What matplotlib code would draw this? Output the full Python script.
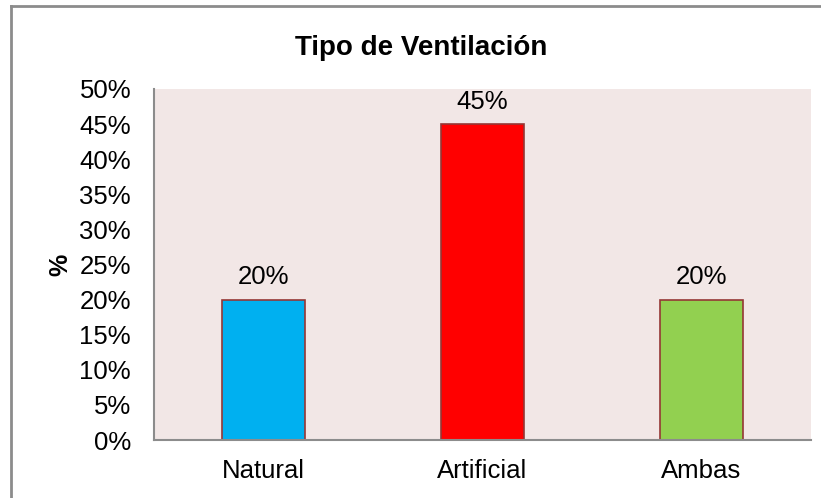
import matplotlib
matplotlib.use("Agg")
import matplotlib.pyplot as plt
from matplotlib.lines import Line2D
from matplotlib.ticker import FuncFormatter

categories = ["Natural", "Artificial", "Ambas"]
values = [20, 45, 20]
bar_colors = ["#00B0F0", "#FF0000", "#92D050"]
title = "Tipo de Ventilación"
ylabel = "%"

plt.rcParams['font.family'] = ['Liberation Sans', 'DejaVu Sans']

fig = plt.figure(figsize=(8.21, 4.98), dpi=100)
ax = fig.add_axes([154/821, 1-440/498, (811-154)/821, (440-89)/498])
ax.set_facecolor("#F2E7E6")

x = list(range(len(categories)))
bars = ax.bar(x, values, width=0.38, color=bar_colors, edgecolor="#953735", linewidth=1.2)
for xi, v in zip(x, values):
    ax.annotate(f"{v}%", (xi, v), xytext=(0, 11), textcoords="offset points",
                ha="center", va="baseline", fontsize=18.5)

ax.set_xlim(-0.5, 2.5)
ax.set_ylim(0, 50)
ax.set_yticks(range(0, 51, 5))
ax.yaxis.set_major_formatter(FuncFormatter(lambda v, p: f"{int(v)}%"))
ax.set_xticks(x)
ax.set_xticklabels(categories)
ax.tick_params(axis="both", length=0, labelsize=18.5)
ax.tick_params(axis="y", pad=16.5)
ax.tick_params(axis="x", pad=14)

for s in ["top", "right"]:
    ax.spines[s].set_visible(False)
for s in ["left", "bottom"]:
    ax.spines[s].set_color("#8C8C8C")
    ax.spines[s].set_linewidth(1.5)

ax.set_ylabel(ylabel, fontsize=18, fontweight="bold")
ax.yaxis.set_label_coords(-0.124, 0.5)
fig.text(421/821, 1-48/498, title, ha="center", va="center", fontsize=20, fontweight="bold")

# outer chart border
bx, by = 11/821, 1-6/498
fig.add_artist(Line2D([bx, bx], [0, by], transform=fig.transFigure, color="#8C8C8C", linewidth=2))
fig.add_artist(Line2D([bx, 1], [by, by], transform=fig.transFigure, color="#8C8C8C", linewidth=2))

fig.savefig("out.png", dpi=100)
